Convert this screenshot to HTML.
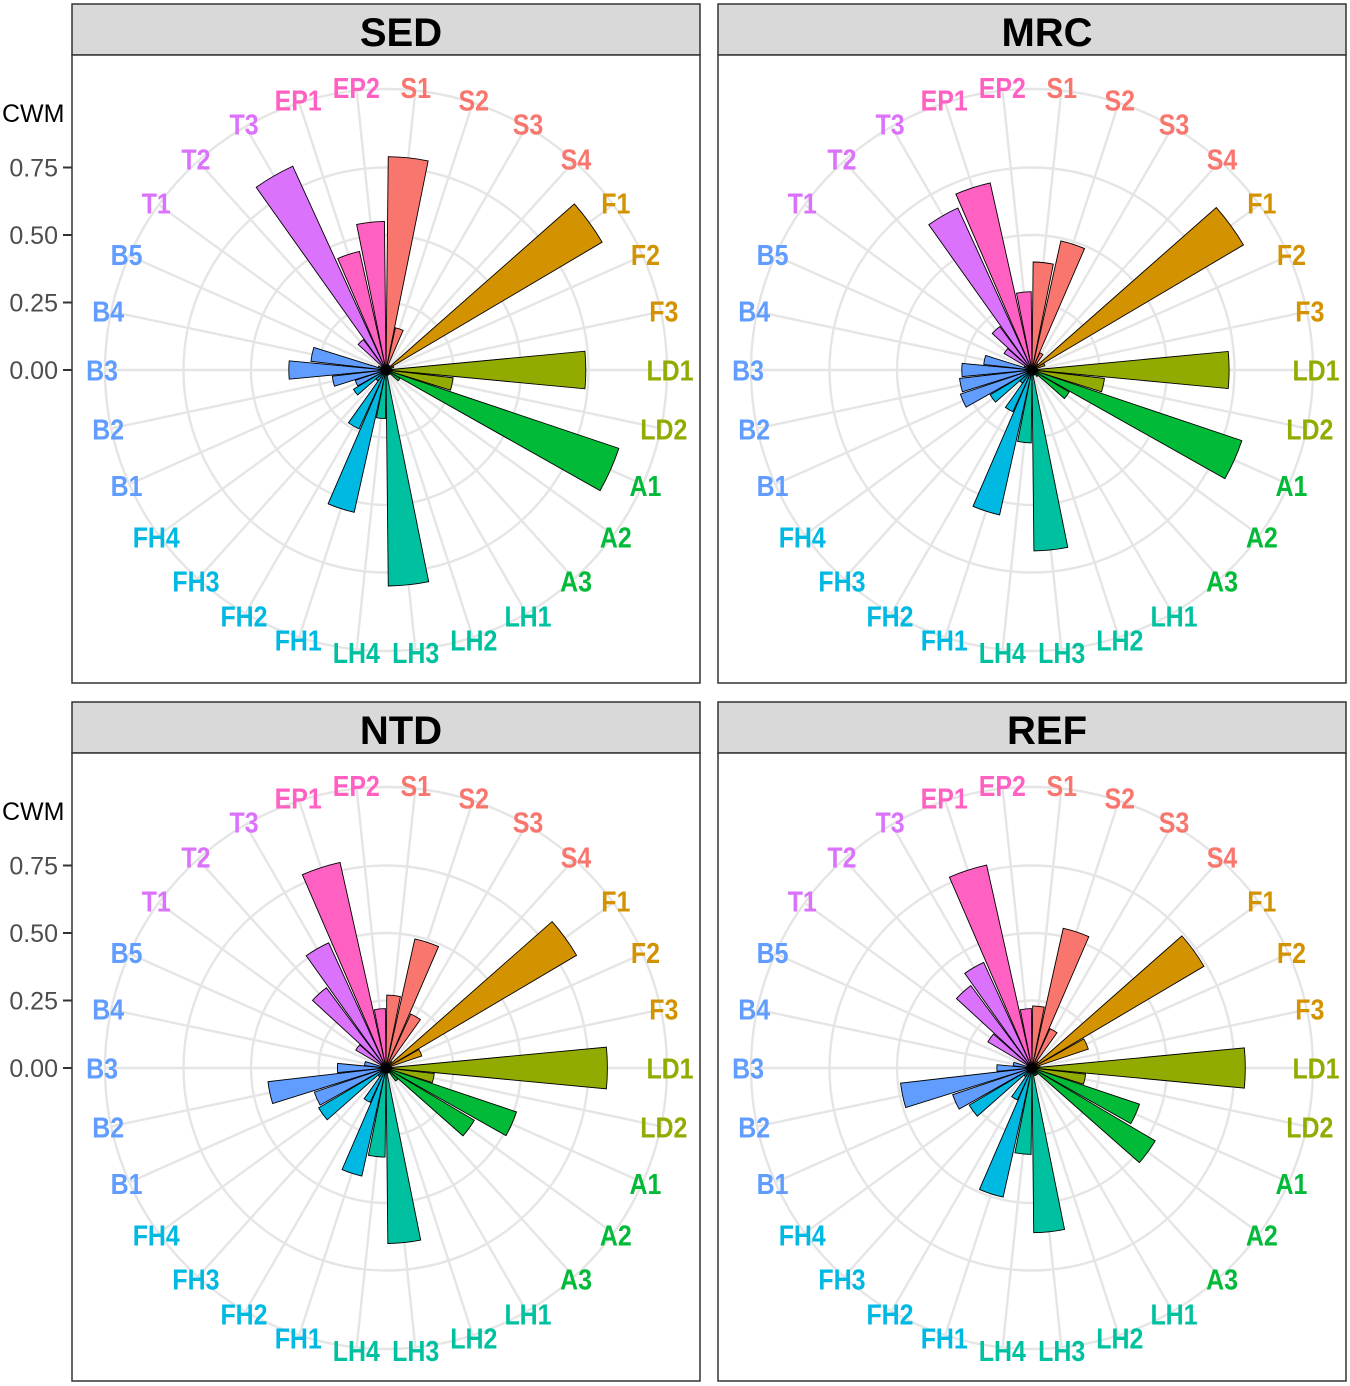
<!DOCTYPE html>
<html><head><meta charset="utf-8"><style>
html,body{margin:0;padding:0;background:#fff;}
svg{display:block;font-family:"Liberation Sans",Arial,sans-serif;}
</style></head><body>
<svg id="chart" width="1350" height="1386" viewBox="0 0 1350 1386" xmlns="http://www.w3.org/2000/svg"></svg>
<script>
const categories = ["S1","S2","S3","S4","F1","F2","F3","LD1","LD2","A1","A2","A3","LH1","LH2","LH3","LH4","FH1","FH2","FH3","FH4","B1","B2","B3","B4","B5","T1","T2","T3","EP1","EP2"];
const groups = ["S","S","S","S","F","F","F","LD","LD","A","A","A","LH","LH","LH","LH","FH","FH","FH","FH","B","B","B","B","B","T","T","T","EP","EP"];
const panels = ["SED","MRC","NTD","REF"];
const sedValues = [0.79,0.16,0.02,0.02,0.93,0.03,0.02,0.74,0.25,0.91,0.06,0.02,0.02,0.02,0.80,0.18,0.54,0.24,0.05,0.14,0.12,0.20,0.36,0.28,0.03,0.02,0.14,0.83,0.45,0.55];
const mrcValues = [0.40,0.49,0.07,0.03,0.91,0.05,0.02,0.73,0.27,0.82,0.16,0.03,0.02,0.02,0.67,0.27,0.55,0.17,0.06,0.18,0.28,0.27,0.26,0.18,0.03,0.12,0.20,0.66,0.71,0.29];
const ntdValues = [0.27,0.49,0.22,0.03,0.82,0.14,0.02,0.82,0.18,0.51,0.38,0.06,0.02,0.02,0.65,0.33,0.41,0.14,0.04,0.29,0.28,0.44,0.18,0.08,0.02,0.13,0.37,0.51,0.78,0.22];
const refValues = [0.23,0.53,0.16,0.03,0.74,0.22,0.03,0.79,0.20,0.42,0.53,0.03,0.03,0.03,0.61,0.32,0.49,0.13,0.04,0.27,0.31,0.49,0.13,0.07,0.02,0.19,0.38,0.43,0.77,0.22];
const tickValues = [0,0.25,0.5,0.75];
const tickLabels = ["0.00","0.25","0.50","0.75"];
const groupColors = {S:"#F8766D",F:"#D39200",LD:"#93AA00",A:"#00BA38",LH:"#00C19F",FH:"#00B9E3",B:"#619CFF",T:"#DB72FB",EP:"#FF61C3"};
const allValues = [sedValues,mrcValues,ntdValues,refValues];

const NS="http://www.w3.org/2000/svg";
const svg=document.getElementById('chart');
function mk(tag,attrs,parent){const e=document.createElementNS(NS,tag);for(const k in attrs)e.setAttribute(k,attrs[k]);(parent||svg).appendChild(e);return e;}
const R1=270;
function rScale(v){return v*R1;}
const step=360/categories.length;
function thetaScale(i){return (i+0.5)*step;}
function pt(cx,cy,r,deg){const a=deg*Math.PI/180;return [cx+r*Math.sin(a),cy-r*Math.cos(a)];}

const layout=[{x:72,y:4},{x:718,y:4},{x:72,y:702},{x:718,y:702}];
panels.forEach((name,p)=>{
  const L=layout[p];
  const g=mk('g',{});
  
  
  const W=628,H=679,SH=51;
  const strip=mk('rect',{x:L.x,y:L.y,width:W,height:SH,fill:'#D9D9D9',stroke:'#333',"stroke-width":1.5},g);
  
  
  const st=mk('text',{x:L.x+W/2+15,y:L.y+42,"text-anchor":"middle","font-size":40,"font-weight":"bold",fill:"#000"},g);
  st.textContent=name;
  
  
  const box=mk('rect',{x:L.x,y:L.y+SH,width:W,height:H-SH,fill:'#fff',stroke:'#333',"stroke-width":1.5},g);
  
  
  const cx=L.x+314, cy=L.y+366;
  tickValues.slice(1).forEach(v=>{
    const c=mk('circle',{cx:cx,cy:cy,r:rScale(v),fill:'none',stroke:'#E5E5E5',"stroke-width":2.4},g);
    
    
  });
  const oc=mk('circle',{cx:cx,cy:cy,r:281,fill:'none',stroke:'#E5E5E5',"stroke-width":2.4},g);
  
  
  categories.forEach((c,i)=>{
    const e=pt(cx,cy,281,thetaScale(i));
    const l=mk('line',{x1:cx,y1:cy,x2:e[0],y2:e[1],stroke:'#E5E5E5',"stroke-width":2.4},g);
    
    
  });
  const vals=allValues[p];
  const half=step*0.9/2;
  vals.forEach((v,i)=>{
    const r=rScale(v), t=thetaScale(i);
    const a=pt(cx,cy,r,t-half), b=pt(cx,cy,r,t+half);
    const d=`M${cx},${cy} L${a[0]},${a[1]} A${r},${r} 0 0 1 ${b[0]},${b[1]} Z`;
    const bar=mk('path',{d:d,fill:groupColors[groups[i]],stroke:'#000',"stroke-width":0.9,"stroke-linejoin":"miter"},g);
    
    
  });
  categories.forEach((c,i)=>{
    const q=pt(cx,cy,284,thetaScale(i));
    const t=mk('text',{transform:`translate(${q[0]},${q[1]+10.5}) scale(0.86,1)`,"text-anchor":"middle","font-size":29,"font-weight":"bold",fill:groupColors[groups[i]]},g);
    t.textContent=c;
    
    
  });
  if(p%2===0){
    tickValues.forEach((v,k)=>{
      const y=cy-rScale(v);
      const tk=mk('line',{x1:L.x-9,y1:y,x2:L.x,y2:y,stroke:'#333',"stroke-width":2},g);
      
      
      const tl=mk('text',{x:L.x-14,y:y+9,"text-anchor":"end","font-size":25,fill:'#4D4D4D'},g);
      tl.textContent=tickLabels[k];
      
      
    });
    const yt=mk('text',{x:2,y:L.y+118,"font-size":25,fill:'#000'},g);
    yt.textContent='CWM';
    
    
  }
});
</script>
</body></html>
